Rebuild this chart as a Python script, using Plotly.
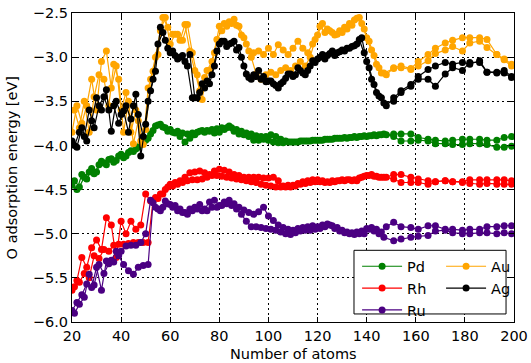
import plotly.graph_objects as go

# x positions (number of atoms)
X_EVEN = list(range(20, 149, 2))
X_ODD = list(range(21, 148, 2))
X_SPARSE = [151, 154, 158, 161, 165, 168, 172, 175, 179, 182, 186, 189, 193, 196, 199]

# ---------------- Pd ----------------
PD_A = [-4.45, -4.50, -4.33, -4.38, -4.26, -4.30, -4.18, -4.22, -4.15, -4.17,
        -4.10, -4.12, -4.06, -4.04, -3.99, -3.94, -3.87, -3.78, -3.76, -3.80,
        -3.82, -3.86, -3.90, -3.96, -3.92, -3.88, -3.84, -3.85, -3.84, -3.86,
        -3.85, -3.82, -3.78, -3.84, -3.87, -3.88, -3.90, -3.94, -3.94, -3.93,
        -3.94, -3.96, -3.97, -3.97, -3.96, -3.96, -3.96, -3.95, -3.95, -3.94,
        -3.94, -3.94, -3.93, -3.93, -3.92, -3.92, -3.92, -3.91, -3.91, -3.90,
        -3.90, -3.89, -3.89, -3.88, -3.88]
PD_B = [-4.40, -4.47, -4.36, -4.30, -4.32, -4.22, -4.20, -4.16, -4.19, -4.12,
        -4.14, -4.08, -4.07, -4.02, -3.97, -3.92, -3.83, -3.77, -3.79, -3.84,
        -3.85, -3.84, -3.86, -3.87, -3.86, -3.85, -3.83, -3.83, -3.82, -3.81,
        -3.80, -3.80, -3.80, -3.82, -3.84, -3.86, -3.87, -3.89, -3.90, -3.90,
        -3.88, -3.90, -3.93, -3.95, -3.96, -3.96, -3.95, -3.95, -3.95, -3.94,
        -3.94, -3.93, -3.93, -3.92, -3.92, -3.91, -3.91, -3.90, -3.90, -3.89,
        -3.89, -3.88, -3.88, -3.87]
PD_A_S = [-3.87, -3.87, -3.87, -3.91, -3.93, -3.94, -3.95, -3.94, -3.93, -3.93,
          -3.93, -3.94, -3.94, -3.91, -3.90]
PD_B_S = [-3.90, -3.95, -3.95, -3.94, -3.95, -3.98, -3.98, -3.99, -3.99, -3.98,
          -3.98, -3.99, -4.02, -4.02, -4.01]

# ---------------- Rh ----------------
RH_A = [-5.64, -5.53, -5.27, -5.38, -5.16, -5.07, -5.18, -4.82, -4.90, -5.27,
        -4.86, -5.00, -4.86, -4.95, -4.90, -4.55, -4.63, -4.59, -4.55, -4.50,
        -4.44, -4.42, -4.40, -4.36, -4.31, -4.30, -4.29, -4.31, -4.33, -4.29,
        -4.27, -4.28, -4.30, -4.33, -4.34, -4.36, -4.36, -4.36, -4.36, -4.37,
        -4.37, -4.36, -4.40, -4.46, -4.45, -4.45, -4.43, -4.41, -4.40, -4.39,
        -4.39, -4.40, -4.41, -4.40, -4.40, -4.39, -4.39, -4.40, -4.40, -4.36,
        -4.34, -4.33, -4.35, -4.36, -4.36]
RH_B = [-5.60, -5.55, -5.45, -5.50, -5.25, -5.28, -5.18, -5.20, -5.13, -5.12,
        -5.12, -5.11, -5.10, -5.10, -5.10, -5.10, -4.63, -4.60, -4.55, -4.47,
        -4.46, -4.44, -4.42, -4.40, -4.39, -4.39, -4.38, -4.36, -4.34, -4.34,
        -4.35, -4.36, -4.37, -4.38, -4.39, -4.40, -4.41, -4.42, -4.44, -4.45,
        -4.46, -4.47, -4.47, -4.47, -4.47, -4.46, -4.44, -4.43, -4.42, -4.41,
        -4.41, -4.42, -4.42, -4.41, -4.40, -4.40, -4.39, -4.39, -4.37, -4.35,
        -4.34, -4.35, -4.36, -4.36]
RH_A_S = [-4.33, -4.33, -4.36, -4.38, -4.40, -4.41, -4.40, -4.41, -4.41, -4.39,
          -4.39, -4.39, -4.39, -4.39, -4.40]
RH_B_S = [-4.38, -4.42, -4.42, -4.42, -4.44, -4.41, -4.40, -4.41, -4.42, -4.43,
          -4.44, -4.43, -4.44, -4.44, -4.44]

# ---------------- Ru ----------------
RU_A = [-5.87, -5.78, -5.69, -5.57, -5.61, -5.38, -5.64, -5.31, -5.30, -5.20,
        -5.20, -5.14, -5.13, -5.13, -5.10, -5.00, -4.62, -4.70, -4.74, -4.63,
        -4.67, -4.68, -4.72, -4.76, -4.72, -4.70, -4.67, -4.72, -4.64, -4.62,
        -4.68, -4.64, -4.62, -4.66, -4.70, -4.73, -4.76, -4.78, -4.75, -4.70,
        -4.80, -4.85, -4.90, -4.93, -4.95, -4.96, -4.94, -4.93, -4.92, -4.91,
        -4.92, -4.90, -4.89, -4.91, -4.93, -4.96, -4.98, -4.99, -4.98, -4.97,
        -4.94, -4.93, -4.95, -4.98, -4.92]
RU_B = [-5.90, -5.80, -5.72, -5.46, -5.58, -5.35, -5.45, -5.34, -5.32, -5.25,
        -5.35, -5.42, -5.46, -5.38, -5.36, -5.35, -4.65, -4.72, -4.70, -4.66,
        -4.70, -4.74, -4.76, -4.78, -4.74, -4.72, -4.74, -4.74, -4.70, -4.70,
        -4.68, -4.66, -4.68, -4.72, -4.78, -4.86, -4.92, -4.92, -4.93, -4.94,
        -4.95, -4.96, -4.98, -5.00, -5.01, -4.99, -4.97, -4.96, -4.96, -4.95,
        -4.94, -4.92, -4.90, -4.94, -4.97, -4.99, -5.00, -5.01, -5.00, -5.00,
        -4.95, -4.97, -5.00, -5.04]
RU_A_S = [-4.87, -4.92, -4.93, -4.95, -4.91, -4.91, -4.95, -4.95, -4.96, -4.95,
          -4.95, -4.92, -4.92, -4.91, -4.91]
RU_B_S = [-5.08, -5.06, -5.04, -5.03, -5.02, -4.97, -4.96, -4.99, -5.00, -5.00,
          -4.99, -4.99, -5.00, -4.99, -5.00]

# ---------------- Au ----------------
AU_A = [-3.85, -3.55, -3.75, -3.55, -3.25, -3.60, -3.05, -2.93, -3.35, -3.10,
        -3.60, -3.40, -3.85, -3.60, -3.95, -3.82, -3.25, -3.00, -2.70, -2.55,
        -2.85, -2.74, -2.81, -2.63, -2.93, -3.15, -3.38, -3.23, -3.15, -2.95,
        -2.65, -2.62, -2.60, -2.57, -2.65, -2.78, -2.93, -2.95, -2.93, -2.97,
        -2.90, -2.97, -2.86, -2.92, -2.97, -2.90, -2.82, -2.90, -2.95, -2.85,
        -2.75, -2.62, -2.68, -2.72, -2.74, -2.72, -2.68, -2.64, -2.56, -2.62,
        -2.78, -2.92, -3.08, -3.18, -3.20]
AU_B = [-3.60, -3.80, -3.50, -3.85, -3.45, -3.20, -3.25, -3.55, -3.08, -3.25,
        -3.85, -3.50, -3.98, -3.72, -3.99, -3.35, -3.16, -2.97, -2.55, -2.66,
        -2.74, -2.74, -2.81, -2.63, -2.95, -3.20, -3.48, -3.15, -3.05, -2.80,
        -2.70, -2.65, -2.62, -2.64, -2.75, -2.85, -3.00, -3.19, -3.25, -3.20,
        -3.17, -3.20, -3.15, -3.12, -3.15, -3.10, -3.05, -3.10, -3.00, -2.80,
        -2.65, -2.72, -2.70, -2.75, -2.70, -2.66, -2.62, -2.58, -2.55, -2.68,
        -2.82, -2.98, -3.12, -3.18]
AU_A_S = [-3.12, -3.10, -3.13, -3.05, -2.97, -2.90, -2.84, -2.81, -2.78, -2.78,
          -2.78, -2.80, -2.97, -3.02, -3.08]
AU_B_S = [-3.13, -3.12, -3.14, -3.10, -3.04, -2.96, -2.92, -2.88, -2.93, -2.84,
          -2.82, -2.89, -2.97, -3.03, -3.10]

# ---------------- Ag ----------------
AG_A = [-3.95, -4.02, -3.80, -3.95, -3.72, -3.46, -3.60, -3.37, -3.84, -3.50,
        -3.65, -3.55, -3.70, -3.42, -4.12, -3.76, -3.38, -3.16, -2.66, -2.81,
        -2.95, -2.98, -3.00, -3.05, -2.97, -3.46, -3.40, -3.35, -3.30, -3.10,
        -2.85, -2.82, -2.85, -2.82, -2.89, -3.10, -3.23, -3.20, -3.15, -3.22,
        -3.27, -3.30, -3.35, -3.28, -3.19, -3.22, -3.12, -3.18, -3.15, -3.04,
        -3.02, -2.97, -2.98, -2.93, -2.95, -2.92, -2.90, -2.88, -2.85, -2.78,
        -3.05, -3.25, -3.40, -3.46, -3.55]
AG_B = [-4.00, -3.85, -3.90, -3.60, -3.80, -3.55, -3.45, -3.60, -3.55, -3.75,
        -3.61, -3.85, -3.55, -3.65, -3.90, -3.50, -3.25, -2.85, -2.72, -2.90,
        -2.93, -3.02, -2.98, -3.10, -3.46, -3.46, -3.30, -3.27, -3.20, -2.93,
        -2.82, -2.88, -2.84, -2.92, -3.00, -3.19, -3.25, -3.22, -3.25, -3.28,
        -3.27, -3.32, -3.30, -3.24, -3.19, -3.20, -3.15, -3.20, -3.10, -3.06,
        -3.00, -3.02, -2.96, -2.98, -2.94, -2.93, -2.90, -2.87, -2.80, -2.95,
        -3.12, -3.31, -3.44, -3.52]
AG_A_S = [-3.46, -3.38, -3.31, -3.22, -3.14, -3.10, -3.06, -3.08, -3.06, -3.08,
          -3.04, -3.17, -3.17, -3.15, -3.22]
AG_B_S = [-3.50, -3.40, -3.33, -3.25, -3.25, -3.33, -3.19, -3.12, -3.15, -3.06,
          -3.06, -3.17, -3.18, -3.18, -3.23]

SERIES = [
    ("Pd", "#008000", PD_A, PD_A_S, PD_B, PD_B_S, "legend"),
    ("Rh", "#ff0000", RH_A, RH_A_S, RH_B, RH_B_S, "legend"),
    ("Ru", "#4b0082", RU_A, RU_A_S, RU_B, RU_B_S, "legend"),
    ("Au", "#ffa500", AU_A, AU_A_S, AU_B, AU_B_S, "legend2"),
    ("Ag", "#000000", AG_A, AG_A_S, AG_B, AG_B_S, "legend2"),
]

FONT = "DejaVu Sans"
FS = 14.5
fig = go.Figure()
for name, color, ya, yas, yb, ybs, leg in SERIES:
    fig.add_trace(go.Scatter(
        x=X_EVEN + X_SPARSE, y=ya + yas, mode="lines+markers", name=name,
        line=dict(color=color, width=1.2), marker=dict(color=color, size=7),
        legend=leg, showlegend=True))
    fig.add_trace(go.Scatter(
        x=X_ODD + X_SPARSE, y=yb + ybs, mode="lines+markers", name=name,
        line=dict(color=color, width=1.2), marker=dict(color=color, size=7),
        legend=leg, showlegend=False))

axis_common = dict(
    showline=True, linecolor="black", linewidth=1.2, mirror="ticks",
    ticks="inside", ticklen=5, tickcolor="black", tickwidth=1,
    showgrid=True, gridcolor="black", gridwidth=1.2, griddash="2px,3px",
    zeroline=False, automargin=False,
    tickfont=dict(family=FONT, size=FS, color="black"),
)

fig.update_layout(
    width=531, height=363,
    margin=dict(l=72, r=17, t=13, b=41),
    paper_bgcolor="white", plot_bgcolor="white",
    font=dict(family=FONT, size=FS, color="black"),
    xaxis=dict(range=[20, 200], tickmode="array", tickvals=[20, 40, 60, 80, 100, 120, 140, 160, 180, 200],
               **axis_common),
    yaxis=dict(range=[-6.0, -2.5], tickmode="array", tickvals=[-6.0, -5.5, -5.0, -4.5, -4.0, -3.5, -3.0, -2.5],
               tickformat=".1f", **axis_common),
    annotations=[
        dict(text="Number of atoms", xref="paper", yref="paper", x=0.5, y=-0.1036,
             xanchor="center", yanchor="middle", showarrow=False, borderpad=0,
             font=dict(family=FONT, size=FS, color="black")),
        dict(text="O adsorption energy [eV]", xref="paper", yref="paper", x=-0.136, y=0.5,
             xanchor="center", yanchor="middle", textangle=-90, showarrow=False,
             font=dict(family=FONT, size=FS, color="black")),
    ],
    legend=dict(x=0.645, y=0.232, xanchor="left", yanchor="top", bgcolor="rgba(0,0,0,0)",
                font=dict(family=FONT, size=FS), itemwidth=40, tracegroupgap=0),
    legend2=dict(x=0.835, y=0.232, xanchor="left", yanchor="top", bgcolor="rgba(0,0,0,0)",
                 font=dict(family=FONT, size=FS), itemwidth=40, tracegroupgap=0),
    shapes=[dict(type="rect", xref="paper", yref="paper", x0=0.638, x1=0.982, y0=0.026, y1=0.232,
                 line=dict(color="black", width=1), fillcolor="white", layer="above")],
    showlegend=True,
)

fig.write_html("out.html")
